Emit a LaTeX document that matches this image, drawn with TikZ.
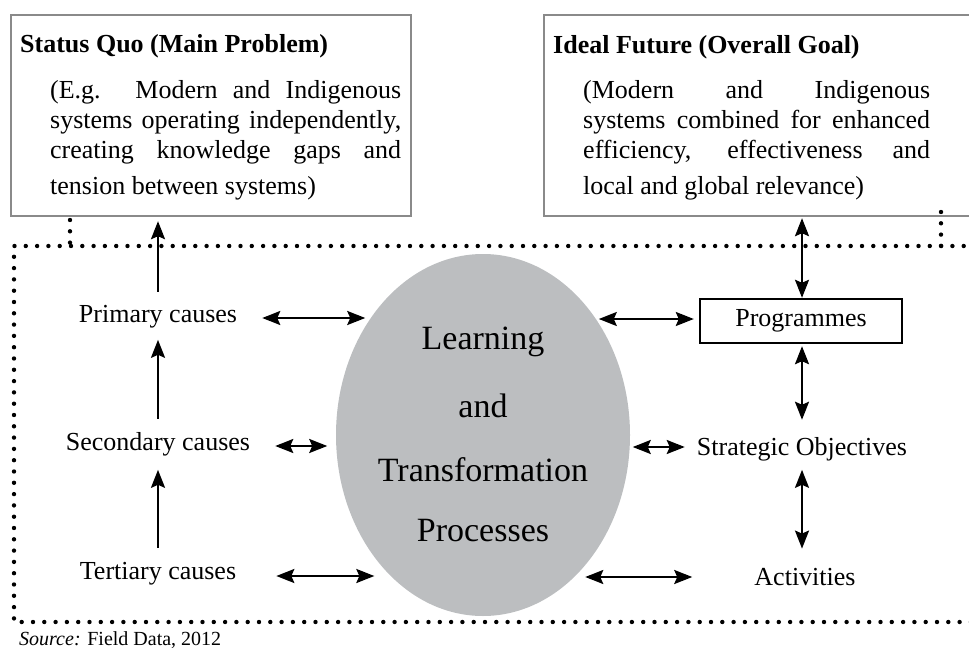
\documentclass[tikz,border=0pt]{standalone}
\usepackage{fontspec}
\setmainfont{Liberation Serif}
\usetikzlibrary{arrows.meta,calc,shapes.geometric}
\definecolor{framegrey}{HTML}{8A8A8A}
\definecolor{blobgrey}{HTML}{BCBEC0}
\begin{document}
\begin{tikzpicture}[x=1pt,y=-1pt,
  txt/.style={font=\fontsize{26}{30}\selectfont, inner sep=0pt},
  boldtxt/.style={font=\fontsize{26}{30}\selectfont\bfseries, inner sep=0pt},
  bigtxt/.style={font=\fontsize{34}{40}\selectfont, inner sep=0pt},
  bighead/.tip={Stealth[length=18pt,width=14pt,inset=3pt]},
  twoway/.style={line width=2.2pt, bighead-bighead},
  oneway/.style={line width=2.2pt, -bighead},
  dotline/.style={line width=4.4pt, line cap=round, dash pattern=on 0pt off 11.3pt},
  frame/.style={draw=framegrey, line width=2.2pt, inner sep=0pt, anchor=north west},
]
\useasboundingbox (0,0) rectangle (969,661);
\clip (0,0) rectangle (969,661);

% problem and goal frames
\node[frame, minimum width=400pt, minimum height=201pt] (sq) at (10,14) {};
\node[frame, minimum width=470pt, minimum height=201pt] (ifg) at (543,14) {};

\node[boldtxt, anchor=base west] (sqt) at (20,53) {Status Quo (Main Problem)};
\node[txt, anchor=base west] (sq1) at (50,99)  {\makebox[351pt][s]{(E.g. Modern and Indigenous}};
\node[txt, anchor=base west] (sq2) at (50,128) {\makebox[351pt][s]{systems operating independently,}};
\node[txt, anchor=base west] (sq3) at (50,158) {\makebox[351pt][s]{creating knowledge gaps and}};
\node[txt, anchor=base west] (sq4) at (50,194) {tension between systems)};

\node[boldtxt, anchor=base west] (ift) at (553,54) {Ideal Future (Overall Goal)};
\node[txt, anchor=base west] (if1) at (583,99)  {\makebox[347pt][s]{(Modern and Indigenous}};
\node[txt, anchor=base west] (if2) at (583,128) {\makebox[347pt][s]{systems combined for enhanced}};
\node[txt, anchor=base west] (if3) at (583,158) {\makebox[347pt][s]{efficiency, effectiveness and}};
\node[txt, anchor=base west] (if4) at (583,194) {local and global relevance)};

% dotted boundary of the process area
\draw[dotline] (975,246) -- (14,246) -- (14,622) -- (975,622);
\draw[dotline] (70,220) -- (70,246);
\draw[dotline] (941,212) -- (941,246);

% central process
\node[ellipse, fill=blobgrey, minimum width=294pt, minimum height=362pt, inner sep=0pt] (ltp) at (483,435) {};
\node[bigtxt, anchor=base] (lt1) at (483,349) {Learning};
\node[bigtxt, anchor=base] (lt2) at (483,417) {and};
\node[bigtxt, anchor=base] (lt3) at (483,481) {Transformation};
\node[bigtxt, anchor=base] (lt4) at (483,541) {Processes};

% causes
\node[txt, anchor=base] (pri) at (158,322) {Primary causes};
\node[txt, anchor=base] (sec) at (158,450) {Secondary causes};
\node[txt, anchor=base] (ter) at (158,579) {Tertiary causes};

% plans
\node[txt, draw, line width=2.4pt, minimum width=202pt, minimum height=44pt] (prog) at (801,321) {Programmes};
\node[txt, anchor=base] (str) at (802,455) {Strategic Objectives};
\node[txt, anchor=base] (act) at (805,585) {Activities};

% causal chain
\draw[oneway] ($(pri.north)+(0,-13)$) -- ($(pri.north |- sq.south)+(0,4)$);
\draw[oneway] ($(sec.north)+(0,-13)$) -- ($(pri.south)+(0,12)$);
\draw[oneway] ($(ter.north)+(0,-14)$) -- ($(sec.south)+(0,14)$);

% links with the process
\draw[twoway] ($(pri.base east)+(25,-4)$) -- ($(pri.base east)+(128,-4)$);
\draw[twoway] ($(sec.base east)+(25,-4)$) -- ($(sec.base east)+(77,-4)$);
\draw[twoway] ($(ter.base east)+(40,-3)$) -- ($(ter.base east)+(138,-3)$);
\draw[twoway] ($(prog.west)+(-100,-2)$) -- ($(prog.west)+(-5,-2)$);
\draw[twoway] ($(str.base west)+(-64,-8)$) -- ($(str.base west)+(-12,-8)$);
\draw[twoway] ($(act.base west)+(-169,-8)$) -- ($(act.base west)+(-62,-8)$);

% plan chain
\draw[twoway] ($(prog.north)+(1,0)$) -- ($(prog.north |- ifg.south)+(1,1)$);
\draw[twoway] ($(prog.south)+(1,2)$) -- ($(str.north)+(0,-17)$);
\draw[twoway] ($(str.south)+(0,9)$) -- ($(act.north)+(-3,-19)$);

\node[font=\fontsize{20}{24}\selectfont, inner sep=0pt, anchor=base west] (src) at (19,645) {\textit{Source:} Field Data, 2012};
\end{tikzpicture}
\end{document}
